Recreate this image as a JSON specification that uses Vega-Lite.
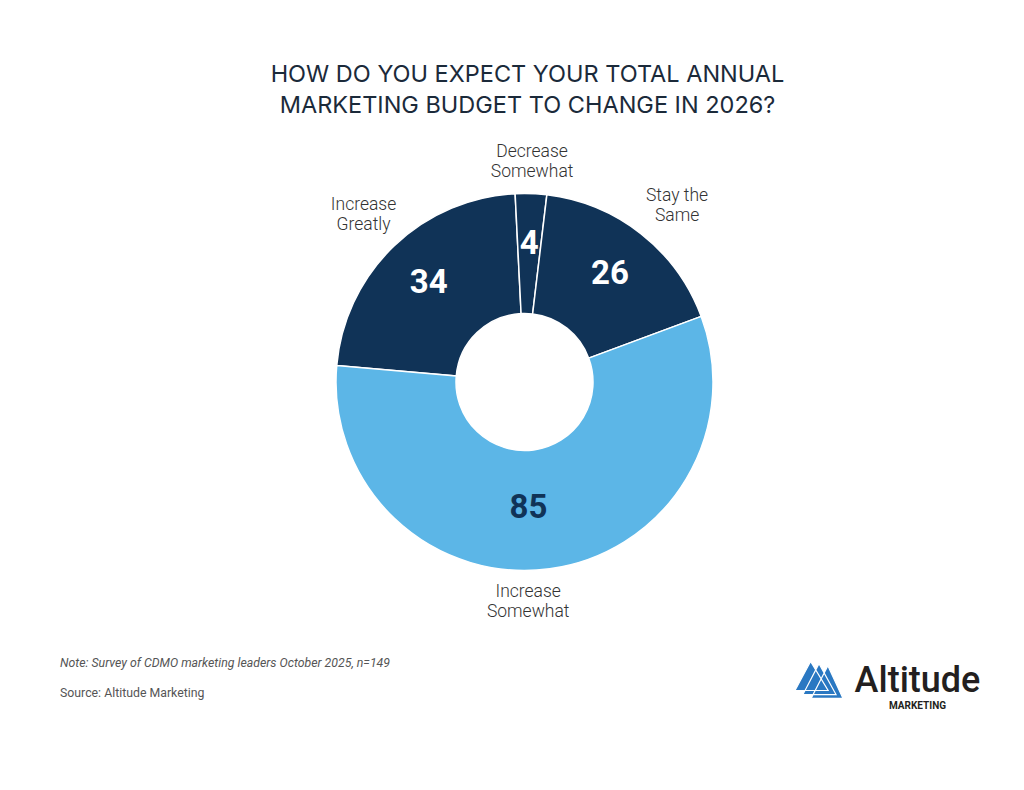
{
  "$schema": "https://vega.github.io/schema/vega-lite/v6.json",
  "background": "white",
  "padding": {"top": 62, "left": 60, "right": 0, "bottom": 0},
  "config": {
    "view": {"stroke": null},
    "font": "Roboto"
  },
  "bounds": "flush",
  "spacing": 28.5,
  "title": {
    "text": ["HOW DO YOU EXPECT YOUR TOTAL ANNUAL", "MARKETING BUDGET TO CHANGE IN 2026?"],
    "anchor": "middle",
    "font": "Inter",
    "fontSize": 23.5,
    "fontWeight": 400,
    "color": "#1b2a3a",
    "lineHeight": 31,
    "offset": 14,
    "dx": 3
  },
  "vconcat": [
    {
      "width": 929,
      "height": 490,
      "data": {
        "values": [
          {"category": "Increase Greatly", "label": "Increase\nGreatly", "value": 34},
          {"category": "Decrease Somewhat", "label": "Decrease\nSomewhat", "value": 4},
          {"category": "Stay the Same", "label": "Stay the\nSame", "value": 26},
          {"category": "Increase Somewhat", "label": "Increase\nSomewhat", "value": 85}
        ]
      },
      "transform": [{"window": [{"op": "row_number", "as": "idx"}]}],
      "encoding": {
        "theta": {"field": "value", "type": "quantitative", "stack": true, "scale": {"range": [-1.4835, 4.7997]}},
        "order": {"field": "idx", "type": "quantitative"},
        "detail": {"field": "category", "type": "nominal"}
      },
      "layer": [
        {
          "mark": {"type": "arc", "innerRadius": 68.5, "outerRadius": 188.5, "stroke": "white", "strokeWidth": 1.5},
          "encoding": {
            "color": {
              "field": "category",
              "type": "nominal",
              "legend": null,
              "scale": {
                "domain": ["Increase Greatly", "Decrease Somewhat", "Stay the Same", "Increase Somewhat"],
                "range": ["#103357", "#103357", "#103357", "#5cb6e7"]
              }
            }
          }
        },
        {
          "mark": {"type": "text", "radius": 138, "fontSize": 33, "fontWeight": "bold", "font": "Roboto", "fill": "white", "baseline": "middle", "align": "center"},
          "encoding": {
            "text": {"condition": {"test": "datum.category !== 'Increase Somewhat'", "field": "value", "type": "quantitative"}, "value": ""}
          }
        },
        {
          "mark": {"type": "text", "radius": 127, "dx": -13, "fontSize": 33, "fontWeight": "bold", "font": "Roboto", "fill": "#103357", "baseline": "middle", "align": "center"},
          "encoding": {
            "text": {"condition": {"test": "datum.category === 'Increase Somewhat'", "field": "value", "type": "quantitative"}, "value": ""}
          }
        },
        {
          "mark": {"type": "text", "radius": 232, "dy": -10, "fontSize": 17.5, "fontWeight": 300, "font": "Roboto", "lineBreak": "\n", "lineHeight": 20, "fill": "#333333", "baseline": "middle", "align": "center"},
          "encoding": {
            "text": {"condition": {"test": "datum.category === 'Increase Greatly'", "field": "label", "type": "nominal"}, "value": ""}
          }
        },
        {
          "mark": {"type": "text", "radius": 232, "dy": -4, "dx": 9, "fontSize": 17.5, "fontWeight": 300, "font": "Roboto", "lineBreak": "\n", "lineHeight": 20, "fill": "#333333", "baseline": "middle", "align": "center"},
          "encoding": {
            "text": {"condition": {"test": "datum.category === 'Stay the Same'", "field": "label", "type": "nominal"}, "value": ""}
          }
        },
        {
          "mark": {"type": "text", "radius": 220, "dy": -10, "fontSize": 17.5, "fontWeight": 300, "font": "Roboto", "lineBreak": "\n", "lineHeight": 20, "fill": "#333333", "baseline": "middle", "align": "center"},
          "encoding": {
            "text": {"condition": {"test": "datum.category === 'Decrease Somewhat'", "field": "label", "type": "nominal"}, "value": ""}
          }
        },
        {
          "mark": {"type": "text", "radius": 222, "dy": -10, "dx": -26, "fontSize": 17.5, "fontWeight": 300, "font": "Roboto", "lineBreak": "\n", "lineHeight": 20, "fill": "#333333", "baseline": "middle", "align": "center"},
          "encoding": {
            "text": {"condition": {"test": "datum.category === 'Increase Somewhat'", "field": "label", "type": "nominal"}, "value": ""}
          }
        }
      ]
    },
    {
      "bounds": "flush",
      "spacing": 0,
      "hconcat": [
        {
          "width": 729,
          "height": 1,
          "data": {"values": [{}]},
          "mark": {"type": "point", "opacity": 0},
          "title": {
            "text": "Note: Survey of CDMO marketing leaders October 2025, n=149",
            "subtitle": "Source: Altitude Marketing",
            "orient": "bottom",
            "anchor": "start",
            "font": "Roboto",
            "fontSize": 12.3,
            "fontStyle": "italic",
            "fontWeight": 400,
            "color": "#555555",
            "subtitleFont": "Roboto",
            "subtitleFontSize": 12.3,
            "subtitleColor": "#555555",
            "subtitlePadding": 18,
            "offset": -2.2
          }
        },
        {
          "width": 60,
          "height": 46,
          "data": {"values": [{}]},
          "mark": {
            "type": "point",
            "shape": "M-0.35,-0.71L-1,0.5L0.38,0.5Z M0,-0.62L-0.67,0.67L0.71,0.67Z M0.37,-0.53L-0.33,0.83L1,0.83Z",
            "size": 2304,
            "filled": true,
            "fill": "#2a78c2",
            "stroke": "white",
            "strokeWidth": 1.2,
            "opacity": 1
          }
        },
        {
          "width": 137,
          "height": 8,
          "data": {"values": [{}]},
          "mark": {"type": "point", "opacity": 0},
          "title": {
            "text": "Altitude",
            "subtitle": "MARKETING",
            "orient": "bottom",
            "anchor": "middle",
            "font": "Roboto",
            "fontSize": 36,
            "fontWeight": 500,
            "color": "#231f20",
            "subtitleFont": "Roboto",
            "subtitleFontSize": 10,
            "subtitleFontWeight": "bold",
            "subtitleColor": "#231f20",
            "subtitlePadding": 1.5,
            "offset": 0.3
          }
        }
      ]
    }
  ]
}
